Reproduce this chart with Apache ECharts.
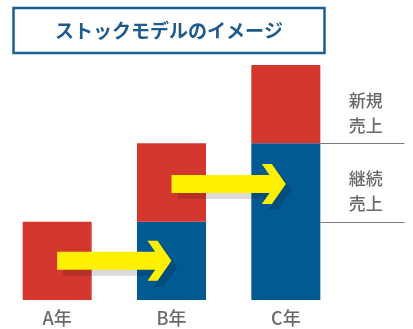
<!DOCTYPE html>
<html><head><meta charset="utf-8">
<script src="https://cdn.jsdelivr.net/npm/echarts@6/dist/echarts.min.js"></script>
<style>html,body{margin:0;padding:0;background:#fff}#c{width:413px;height:329px}</style>
</head><body><div id="c"></div>
<script>
const titleText = 'ストックモデルのイメージ';
const categories = ['A年', 'B年', 'C年'];
const continuingSales = [0, 1, 2];
const newSales = [1, 1, 1];
const arrows = [[0, 0.5], [1, 1.48]];
const guideLines = [[2, 1], [2, 2]];
const sideLabels = [[2, 2.5, '新規\n売上'], [2, 1.5, '継続\n売上']];

const FONT = '"Noto Sans CJK JP", "Noto Sans", sans-serif';
const RED = '#d3372e', BLUE = '#025a93', YELLOW = '#fff000', GRAY = '#6a6a6a';

function arrowPoints(sx, tip, cy) {
  return [[sx, cy - 9], [tip - 16.3, cy - 9], [tip - 24, cy - 20], [tip - 14, cy - 20], [tip, cy],
          [tip - 14, cy + 20], [tip - 24, cy + 20], [tip - 16.3, cy + 9], [sx, cy + 9]];
}

const chart = echarts.init(document.getElementById('c'));
chart.setOption({
  animation: false,
  textStyle: { fontFamily: FONT },
  graphic: [
    { type: 'rect', shape: { x: 13.5, y: 8, width: 311, height: 45 }, style: { fill: '#fff', stroke: '#1b5f94', lineWidth: 2.5 } },
    { type: 'text', x: 169, y: 31, style: { text: titleText, fontFamily: FONT, fontSize: 19, fontWeight: 'bold', fill: '#1e5a8c', align: 'center', verticalAlign: 'middle' } }
  ],
  grid: { left: -2, right: 70, top: 65, bottom: 29, containLabel: false },
  xAxis: {
    type: 'category', data: categories,
    axisLine: { show: false }, axisTick: { show: false },
    axisLabel: { color: GRAY, fontSize: 18, margin: 9, fontFamily: FONT, fontWeight: 500 }
  },
  yAxis: { type: 'value', min: 0, max: 3, show: false, splitLine: { show: false } },
  series: [
    { type: 'bar', name: '継続売上', stack: 's', data: continuingSales, barWidth: 69, itemStyle: { color: BLUE } },
    { type: 'bar', name: '新規売上', stack: 's', data: newSales, barWidth: 69, itemStyle: { color: RED } },
    {
      type: 'custom', data: guideLines, clip: false, z: 3,
      renderItem: function (params, api) {
        const p = api.coord([api.value(0), api.value(1)]);
        const x1 = p[0] + 34.5, x2 = p[0] + 118.5, y = Math.round(p[1]) + 0.5;
        return { type: 'line', shape: { x1: x1, y1: y, x2: x2, y2: y }, style: { stroke: '#7a7a7a', lineWidth: 1.2 } };
      }
    },
    {
      type: 'custom', data: sideLabels, clip: false, z: 3,
      renderItem: function (params, api) {
        const p = api.coord([api.value(0), api.value(1)]);
        return { type: 'text', x: p[0] + 80, y: p[1] + 9, style: { text: sideLabels[params.dataIndex][2], fontFamily: FONT, fontSize: 17, fontWeight: 500, lineHeight: 25, fill: GRAY, align: 'center', verticalAlign: 'middle' } };
      }
    },
    {
      type: 'custom', data: arrows, clip: false, z: 5,
      renderItem: function (params, api) {
        const i = api.value(0), v = api.value(1);
        const s = api.coord([i, v]), e = api.coord([i + 1, v]);
        const pts = arrowPoints(s[0], e[0], s[1]);
        const sh = pts.map(function (q) { return [q[0] + 6, q[1] + 6]; });
        return { type: 'group', children: [
          { type: 'polygon', shape: { points: sh }, style: { fill: 'rgba(0,0,0,0.14)' } },
          { type: 'polygon', shape: { points: pts }, style: { fill: YELLOW } }
        ] };
      }
    }
  ]
});
</script></body></html>
